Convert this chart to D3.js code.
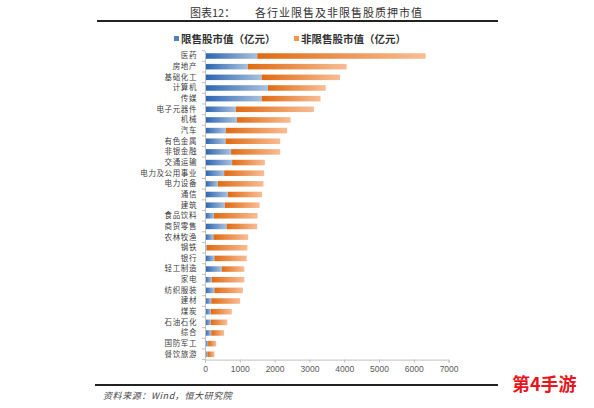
<!DOCTYPE html>
<html>
<head>
<meta charset="utf-8">
<script src="https://cdn.jsdelivr.net/npm/d3@7"></script>
<style>
  body { margin: 0; background: #fff; }
  svg text { font-family: "Noto Sans CJK SC", "DejaVu Sans", sans-serif; }
</style>
</head>
<body>
<div id="vis"></div>
<script>
// industries, top to bottom
const industries = ["医药","房地产","基础化工","计算机","传媒","电子元器件","机械","汽车",
  "有色金属","非银金融","交通运输","电力及公用事业","电力设备","通信","建筑","食品饮料",
  "商贸零售","农林牧渔","钢铁","银行","轻工制造","家电","纺织服装","建材","煤炭",
  "石油石化","综合","国防军工","餐饮旅游"];
// 限售股市值 (亿元)
const restricted = [1500,1230,1630,1810,1630,890,920,600,
  590,750,780,550,370,660,570,260,
  620,240,50,270,480,190,270,180,170,
  170,180,90,70];
// 非限售股市值 (亿元)
const unrestricted = [4840,2840,2250,1660,1690,2240,1540,1760,
  1570,1410,940,1150,1310,980,1000,1250,
  880,1000,1170,930,650,940,820,830,600,
  470,370,230,200];
const xTicks = [0,1000,2000,3000,4000,5000,6000,7000];
const seriesNames = ["限售股市值（亿元）","非限售股市值（亿元）"];

const W = 594, H = 408;
const svg = d3.select("#vis").append("svg").attr("width",W).attr("height",H);

// gradients
const defs = svg.append("defs");
function grad(id, c0, c1){
  const g = defs.append("linearGradient").attr("id",id)
    .attr("x1","0%").attr("x2","100%").attr("y1","0%").attr("y2","0%");
  g.append("stop").attr("offset","0%").attr("stop-color",c0);
  g.append("stop").attr("offset","100%").attr("stop-color",c1);
}
grad("gBlue","#2a64b0","#a9c1de");
grad("gOrange","#e06a12","#f8bd95");

// title
svg.append("text").attr("x",190).attr("y",17).attr("font-size",11).attr("fill","#333")
  .text("图表12：");
svg.append("text").attr("x",255).attr("y",17).attr("font-size",11).attr("fill","#333")
  .attr("letter-spacing",1).text("各行业限售及非限售股质押市值");
svg.append("line").attr("x1",97).attr("x2",498).attr("y1",21).attr("y2",21)
  .attr("stroke","#222").attr("stroke-width",2);

// legend
const leg = [{x:174,c:"#4f81bd"},{x:294,c:"#f79646"}];
leg.forEach((l,i)=>{
  svg.append("rect").attr("x",l.x).attr("y",36).attr("width",5).attr("height",5).attr("fill",l.c);
  svg.append("text").attr("x",l.x+7).attr("y",43).attr("font-size",10.5).attr("font-weight","bold")
    .attr("fill","#333").text(seriesNames[i]);
});

// scales
const x = d3.scaleLinear().domain([0,7000]).range([205,448.6]);
const y = d3.scaleBand().domain(industries).range([50.7,359.6]).paddingInner(0.48).paddingOuter(0.24);

const rows = svg.append("g").selectAll("g").data(industries).enter().append("g");
rows.append("rect")
  .attr("x",x(0)).attr("y",d=>y(d))
  .attr("width",(d,i)=>x(restricted[i])-x(0))
  .attr("height",y.bandwidth()).attr("fill","url(#gBlue)");
rows.append("rect")
  .attr("x",(d,i)=>x(restricted[i])).attr("y",d=>y(d))
  .attr("width",(d,i)=>x(restricted[i]+unrestricted[i])-x(restricted[i]))
  .attr("height",y.bandwidth()).attr("fill","url(#gOrange)");

// y axis
const yAxis = svg.append("g").attr("transform",`translate(${x(0)},0)`)
  .call(d3.axisLeft(y).tickSize(0).tickPadding(8));
yAxis.select(".domain").attr("stroke","#bfbfbf");
yAxis.selectAll("text").attr("font-size",7.5).attr("fill","#404040").attr("letter-spacing",0.6);
// small ticks at band edges
const r0 = y.range()[0], r1 = y.range()[1];
const edges = d3.range(industries.length+1).map(i=>r0+i*(r1-r0)/industries.length);
svg.append("g").selectAll("line").data(edges).enter().append("line")
  .attr("x1",x(0)-3).attr("x2",x(0)).attr("y1",d=>d).attr("y2",d=>d)
  .attr("stroke","#bfbfbf");

// x axis
const xAxis = svg.append("g").attr("transform",`translate(0,359.6)`)
  .call(d3.axisBottom(x).tickValues(xTicks).tickSize(3).tickPadding(3).tickFormat(d3.format("d")));
xAxis.select(".domain").attr("stroke","#bfbfbf");
xAxis.selectAll("line").attr("stroke","#bfbfbf");
xAxis.selectAll("text").attr("font-size",8.5).attr("fill","#595959").style("font-family","Arial, 'Liberation Sans', sans-serif");

// footer
svg.append("line").attr("x1",95).attr("x2",498).attr("y1",385).attr("y2",385)
  .attr("stroke","#222").attr("stroke-width",2);
svg.append("text").attr("x",103).attr("y",399).attr("font-size",9).attr("font-style","italic")
  .attr("letter-spacing",0.6).attr("fill","#444").text("资料来源：Wind，恒大研究院");

// watermark
svg.append("text").attr("x",512).attr("y",391).attr("font-size",18).attr("font-weight","bold")
  .attr("fill","#e8151c").text("第4手游");
</script>
</body>
</html>
